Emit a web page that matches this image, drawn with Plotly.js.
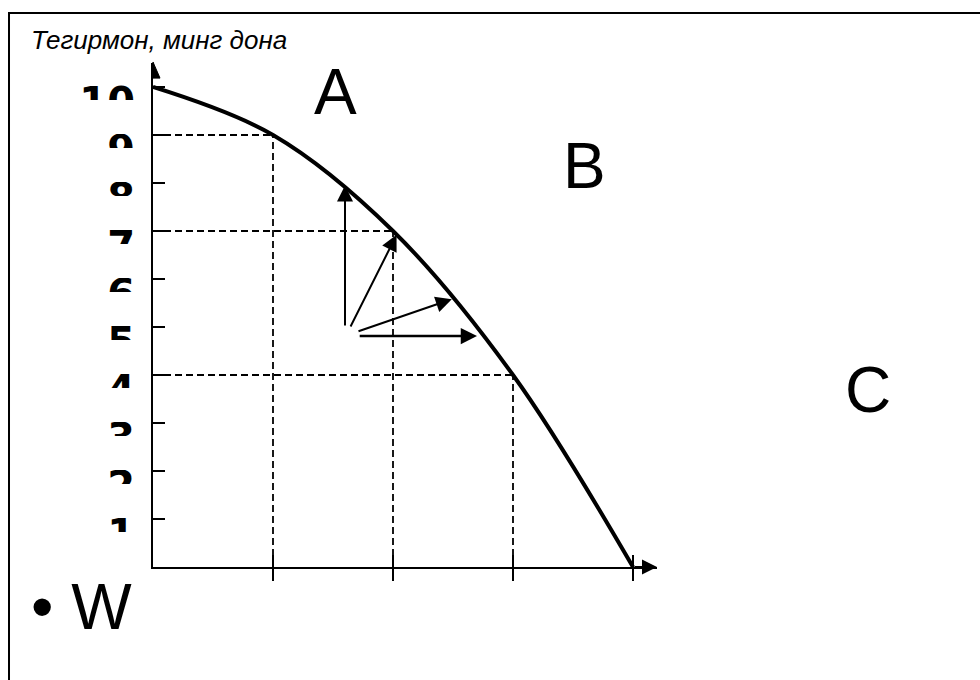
<!DOCTYPE html>
<html>
<head>
<meta charset="utf-8">
<script src="https://cdn.plot.ly/plotly-3.0.1.min.js"></script>
<style>
  body { margin: 0; background: #fff; }
  #chart { width: 980px; height: 680px; }
</style>
</head>
<body>
<div id="chart"></div>
<script>
// production possibilities frontier: goods (x, no labels) vs mills, thousand units (y)
var goods = [0, 1, 2, 3, 4];
var mills = [10, 9, 7, 4, 0];

var xTickVals = [1, 2, 3, 4];
var yTickVals = [1, 2, 3, 4, 5, 6, 7, 8, 9, 10];
var yTickText = ['1', '2', '3', '4', '5', '6', '7', '8', '9', '10'];

// arrows from a point inside the frontier towards it
var moveFromX = [1.60, 1.64, 1.70, 1.71];
var moveFromY = [5.00, 4.98, 4.90, 4.81];
var moveToX = [1.60, 2.03, 2.49, 2.70];
var moveToY = [7.95, 6.92, 5.58, 4.81];

var titleText = 'Тегирмон, минг дона';
var pointLabels = ['A', 'B', 'C'];
var bulletText = '• W';

var FONT = 'Liberation Sans, Arial, sans-serif';

var frontier = {
    x: goods,
    y: mills,
    type: 'scatter',
    mode: 'lines',
    line: {color: '#000', width: 4, shape: 'spline', smoothing: 1},
    hoverinfo: 'skip',
    showlegend: false
};

// invisible copy so the second x axis (upper half of the crossing ticks) gets drawn
var tickHolder = {
    x: goods,
    y: mills,
    xaxis: 'x2',
    type: 'scatter',
    mode: 'lines',
    line: {color: 'rgba(0,0,0,0)', width: 0},
    hoverinfo: 'skip',
    showlegend: false
};

var shapes = [];

// dashed guides from each inner point of the frontier to both axes
for (var i = 1; i < goods.length - 1; i++) {
    shapes.push({type: 'line', xref: 'x', yref: 'y', x0: 0, x1: goods[i], y0: mills[i], y1: mills[i],
        line: {color: '#000', width: 1.8, dash: '7px,4px'}});
    shapes.push({type: 'line', xref: 'x', yref: 'y', x0: goods[i], x1: goods[i], y0: 0, y1: mills[i],
        line: {color: '#000', width: 1.8, dash: '7px,4px'}});
}

// white bands hiding the lower part of each y tick label (clipped look of the original)
for (var k = 0; k < yTickVals.length; k++) {
    shapes.push({type: 'rect', layer: 'above', xref: 'paper', yref: 'y',
        x0: -0.2, x1: -0.006, y0: yTickVals[k] - 0.98, y1: yTickVals[k] - 0.27,
        fillcolor: '#fff', line: {width: 0}});
}

// half arrow head on top of the y axis
shapes.push({type: 'path', layer: 'above', xref: 'paper', yref: 'paper',
    path: 'M 0 1.002 L 0.0139 0.970 L 0 0.970 Z', fillcolor: '#000', line: {color: '#000', width: 1}});

// outer frame (only top and left edges fall inside the picture)
shapes.push({type: 'rect', xref: 'paper', yref: 'paper', x0: -0.2857, x1: 1.9, y0: -0.5, y1: 1.0992,
    line: {color: '#000', width: 2}});

var annotations = [];

// arrow head on the x axis
annotations.push({x: 4.2, y: 0, ax: 4.0, ay: 0, xref: 'x', yref: 'y', axref: 'x', ayref: 'y',
    text: '', showarrow: true, arrowhead: 2, arrowsize: 1.5, arrowwidth: 2, arrowcolor: '#000', standoff: 0});

for (var j = 0; j < moveToX.length; j++) {
    annotations.push({x: moveToX[j], y: moveToY[j], ax: moveFromX[j], ay: moveFromY[j],
        xref: 'x', yref: 'y', axref: 'x', ayref: 'y',
        text: '', showarrow: true, arrowhead: 2,
        arrowsize: j === 3 ? 1.3 : 1.6,
        arrowwidth: j === 3 ? 2.5 : 2, arrowcolor: '#000', standoff: 0});
}

var labelPos = [[0.363, 0.9425], [0.857, 0.7956], [1.4187, 0.3512]];
for (var m = 0; m < pointLabels.length; m++) {
    annotations.push({x: labelPos[m][0], y: labelPos[m][1], xref: 'paper', yref: 'paper',
        xanchor: 'center', yanchor: 'middle', text: pointLabels[m], showarrow: false,
        font: {family: FONT, size: 64, color: '#000'}});
}

annotations.push({x: -0.246, y: -0.0794, xref: 'paper', yref: 'paper', xanchor: 'left', yanchor: 'middle',
    text: bulletText, showarrow: false, font: {family: FONT, size: 64, color: '#000'}});

var layout = {
    width: 980,
    height: 680,
    margin: {l: 153, r: 323, t: 63, b: 113},
    paper_bgcolor: '#fff',
    plot_bgcolor: '#fff',
    showlegend: false,
    title: {
        text: titleText,
        font: {family: FONT, size: 26, style: 'italic', color: '#000'},
        xref: 'container', yref: 'container',
        x: 31 / 980, xanchor: 'left',
        y: 1 - 40 / 680, yanchor: 'middle'
    },
    xaxis: {
        range: [0, 4.2],
        showline: true, linewidth: 2, linecolor: '#000',
        ticks: 'outside', ticklen: 12, tickwidth: 1.5, tickcolor: '#000',
        tickmode: 'array', tickvals: xTickVals, showticklabels: false,
        showgrid: false, zeroline: false, fixedrange: true
    },
    xaxis2: {
        range: [0, 4.2], overlaying: 'x', anchor: 'y', side: 'bottom',
        ticks: 'inside', ticklen: 12, tickwidth: 1.5, tickcolor: '#000',
        tickmode: 'array', tickvals: xTickVals, showticklabels: false,
        showline: false, showgrid: false, zeroline: false, fixedrange: true
    },
    yaxis: {
        range: [0, 10.5],
        showline: true, linewidth: 2, linecolor: '#000',
        ticks: 'inside', ticklen: 12, tickwidth: 1.5, tickcolor: '#000',
        tickmode: 'array', tickvals: yTickVals, ticktext: yTickText,
        tickfont: {family: 'DejaVu Sans, sans-serif', size: 40, weight: 'bold', color: '#000'},
        ticklabelshift: 15, ticklabelstandoff: 8,
        showgrid: false, zeroline: false, fixedrange: true
    },
    shapes: shapes,
    annotations: annotations
};

Plotly.newPlot('chart', [frontier, tickHolder], layout, {displayModeBar: false, staticPlot: true});
</script>
</body>
</html>
